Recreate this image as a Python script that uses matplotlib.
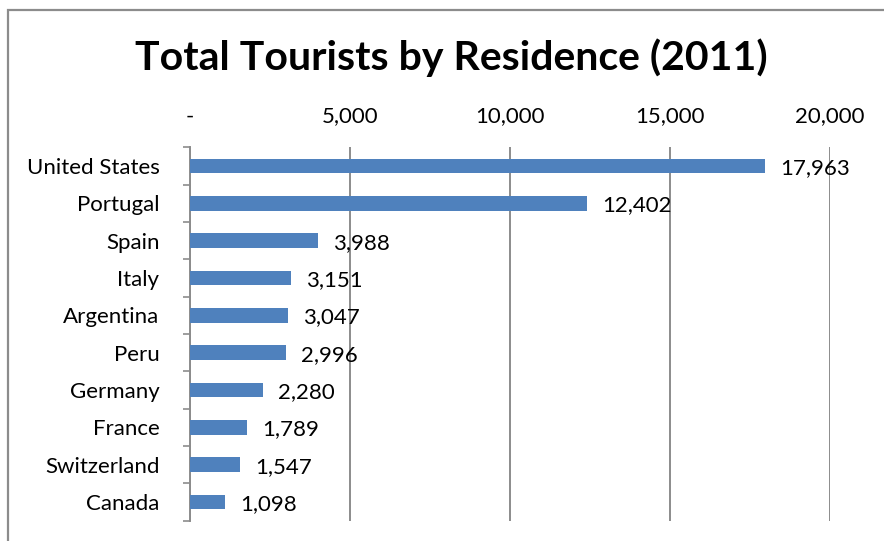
import matplotlib
matplotlib.use("Agg")
import matplotlib.pyplot as plt
from matplotlib.patches import Rectangle
from matplotlib.ticker import FuncFormatter, FixedLocator
import numpy as np

countries = ["United States", "Portugal", "Spain", "Italy", "Argentina",
             "Peru", "Germany", "France", "Switzerland", "Canada"]
tourists = [17963, 12402, 3988, 3151, 3047, 2996, 2280, 1789, 1547, 1098]
x_ticks = [0, 5000, 10000, 15000, 20000]

plt.rcParams['font.family'] = ['Lato', 'DejaVu Sans']

fig = plt.figure(figsize=(8.84, 5.41), dpi=100, facecolor='white')

# chart frame (only left and top edges show)
W, H = 884, 541
fig.patches.append(Rectangle((8 / W, -0.1), 1.2, (H - 10) / H + 0.1,
                             transform=fig.transFigure, fill=False,
                             edgecolor='#8c8c8c', linewidth=1.6))

ax = fig.add_axes([190 / W, 1 - 520.7 / H, 640 / W, 373.4 / H])
ypos = np.arange(len(countries))
ax.barh(ypos, tourists, height=0.4, color='#4f81bd', zorder=3)
ax.set_ylim(len(countries) - 0.5, -0.5)
ax.set_xlim(0, 20000)

for y, v in zip(ypos, tourists):
    ax.annotate(f"{v:,}", (v, y), xytext=(11, -1.5), textcoords='offset points',
                ha='left', va='center', fontsize=16, color='black')

# value axis on top
ax.xaxis.tick_top()
ax.set_xticks(x_ticks)
ax.xaxis.set_major_formatter(FuncFormatter(lambda v, p: "-" if v == 0 else f"{v:,.0f}"))
ax.tick_params(axis='x', length=0, pad=15, labelsize=16)
ax.grid(axis='x', color='#8c8c8c', linewidth=1.4, zorder=0)

ax.set_yticks(ypos)
ax.set_yticklabels(countries)
ax.yaxis.set_minor_locator(FixedLocator(np.arange(-0.5, len(countries), 1.0)))
ax.tick_params(axis='y', which='major', length=0, pad=22, labelsize=16)
ax.tick_params(axis='y', which='minor', length=5, width=1.2, color='#8c8c8c')

for s in ['top', 'right', 'bottom']:
    ax.spines[s].set_visible(False)
ax.spines['left'].set_color('#8c8c8c')
ax.spines['left'].set_linewidth(1.4)

fig.text(451 / W, 1 - 58 / H, "Total Tourists by Residence (2011)",
         ha='center', va='center', fontsize=29.5, fontweight='bold')

fig.savefig('out.png', dpi=100, facecolor='white')
